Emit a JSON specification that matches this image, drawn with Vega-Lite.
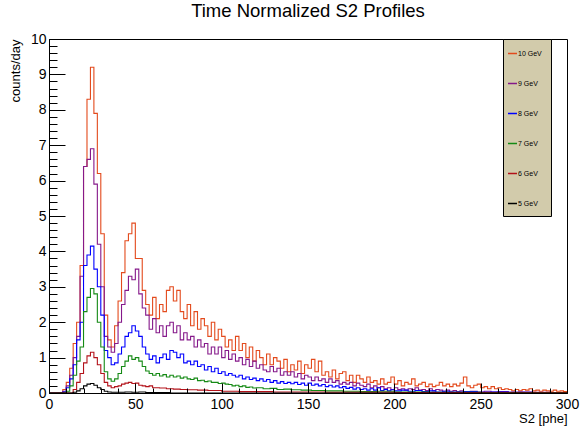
{
"$schema":"https://vega.github.io/schema/vega-lite/v6.json",
"autosize":{"type":"none"},
"width":518,"height":354,
"padding":{"left":49,"top":39,"right":14,"bottom":33},
"background":"white",
"title":{"text":"Time Normalized S2 Profiles","fontSize":18.5,"fontWeight":"normal","font":"Liberation Sans","color":"#000","anchor":"middle","offset":13,"dy":16,"baseline":"alphabetic"},
"config":{"view":{"stroke":"#000","strokeWidth":1},"font":"Liberation Sans"},
"data":{"values":[
{"s":"10 GeV","x":0,"y":0},{"s":"10 GeV","x":2,"y":0},{"s":"10 GeV","x":4,"y":0},{"s":"10 GeV","x":6,"y":0},{"s":"10 GeV","x":8,"y":0.1},{"s":"10 GeV","x":10,"y":0.3},{"s":"10 GeV","x":12,"y":0.7},{"s":"10 GeV","x":14,"y":1.4},{"s":"10 GeV","x":16,"y":2.0},{"s":"10 GeV","x":18,"y":3.6},{"s":"10 GeV","x":20,"y":6.4},{"s":"10 GeV","x":22,"y":8.3},{"s":"10 GeV","x":24,"y":9.2},{"s":"10 GeV","x":26,"y":7.9},{"s":"10 GeV","x":28,"y":6.2},{"s":"10 GeV","x":30,"y":4.5},{"s":"10 GeV","x":32,"y":2.2},{"s":"10 GeV","x":34,"y":1.5},{"s":"10 GeV","x":36,"y":1.3},{"s":"10 GeV","x":38,"y":1.9},{"s":"10 GeV","x":40,"y":2.6},{"s":"10 GeV","x":42,"y":3.4},{"s":"10 GeV","x":44,"y":4.3},{"s":"10 GeV","x":46,"y":4.5},{"s":"10 GeV","x":48,"y":4.8},{"s":"10 GeV","x":50,"y":3.8},{"s":"10 GeV","x":52,"y":3.8},{"s":"10 GeV","x":54,"y":2.9},{"s":"10 GeV","x":56,"y":2.5},{"s":"10 GeV","x":58,"y":2.2},{"s":"10 GeV","x":60,"y":2.7},{"s":"10 GeV","x":62,"y":2.1},{"s":"10 GeV","x":64,"y":2.5},{"s":"10 GeV","x":66,"y":2.3},{"s":"10 GeV","x":68,"y":2.9},{"s":"10 GeV","x":70,"y":3.0},{"s":"10 GeV","x":72,"y":2.6},{"s":"10 GeV","x":74,"y":2.9},{"s":"10 GeV","x":76,"y":2.3},{"s":"10 GeV","x":78,"y":2.1},{"s":"10 GeV","x":80,"y":2.5},{"s":"10 GeV","x":82,"y":1.9},{"s":"10 GeV","x":84,"y":2.3},{"s":"10 GeV","x":86,"y":1.8},{"s":"10 GeV","x":88,"y":2.1},{"s":"10 GeV","x":90,"y":1.9},{"s":"10 GeV","x":92,"y":1.6},{"s":"10 GeV","x":94,"y":2.0},{"s":"10 GeV","x":96,"y":1.5},{"s":"10 GeV","x":98,"y":1.8},{"s":"10 GeV","x":100,"y":1.6},{"s":"10 GeV","x":102,"y":1.3},{"s":"10 GeV","x":104,"y":1.5},{"s":"10 GeV","x":106,"y":1.2},{"s":"10 GeV","x":108,"y":1.6},{"s":"10 GeV","x":110,"y":1.2},{"s":"10 GeV","x":112,"y":1.4},{"s":"10 GeV","x":114,"y":1.0},{"s":"10 GeV","x":116,"y":1.3},{"s":"10 GeV","x":118,"y":0.9},{"s":"10 GeV","x":120,"y":1.2},{"s":"10 GeV","x":122,"y":1.0},{"s":"10 GeV","x":124,"y":0.8},{"s":"10 GeV","x":126,"y":1.1},{"s":"10 GeV","x":128,"y":0.8},{"s":"10 GeV","x":130,"y":1.0},{"s":"10 GeV","x":132,"y":0.9},{"s":"10 GeV","x":134,"y":0.7},{"s":"10 GeV","x":136,"y":0.95},{"s":"10 GeV","x":138,"y":0.6},{"s":"10 GeV","x":140,"y":0.8},{"s":"10 GeV","x":142,"y":0.65},{"s":"10 GeV","x":144,"y":0.9},{"s":"10 GeV","x":146,"y":0.55},{"s":"10 GeV","x":148,"y":0.8},{"s":"10 GeV","x":150,"y":0.7},{"s":"10 GeV","x":152,"y":0.95},{"s":"10 GeV","x":154,"y":0.6},{"s":"10 GeV","x":156,"y":0.9},{"s":"10 GeV","x":158,"y":0.5},{"s":"10 GeV","x":160,"y":0.6},{"s":"10 GeV","x":162,"y":0.45},{"s":"10 GeV","x":164,"y":0.65},{"s":"10 GeV","x":166,"y":0.4},{"s":"10 GeV","x":168,"y":0.55},{"s":"10 GeV","x":170,"y":0.6},{"s":"10 GeV","x":172,"y":0.35},{"s":"10 GeV","x":174,"y":0.5},{"s":"10 GeV","x":176,"y":0.3},{"s":"10 GeV","x":178,"y":0.5},{"s":"10 GeV","x":180,"y":0.4},{"s":"10 GeV","x":182,"y":0.3},{"s":"10 GeV","x":184,"y":0.45},{"s":"10 GeV","x":186,"y":0.3},{"s":"10 GeV","x":188,"y":0.35},{"s":"10 GeV","x":190,"y":0.25},{"s":"10 GeV","x":192,"y":0.4},{"s":"10 GeV","x":194,"y":0.25},{"s":"10 GeV","x":196,"y":0.3},{"s":"10 GeV","x":198,"y":0.45},{"s":"10 GeV","x":200,"y":0.25},{"s":"10 GeV","x":202,"y":0.35},{"s":"10 GeV","x":204,"y":0.2},{"s":"10 GeV","x":206,"y":0.3},{"s":"10 GeV","x":208,"y":0.25},{"s":"10 GeV","x":210,"y":0.4},{"s":"10 GeV","x":212,"y":0.2},{"s":"10 GeV","x":214,"y":0.25},{"s":"10 GeV","x":216,"y":0.3},{"s":"10 GeV","x":218,"y":0.18},{"s":"10 GeV","x":220,"y":0.25},{"s":"10 GeV","x":222,"y":0.18},{"s":"10 GeV","x":224,"y":0.22},{"s":"10 GeV","x":226,"y":0.3},{"s":"10 GeV","x":228,"y":0.2},{"s":"10 GeV","x":230,"y":0.25},{"s":"10 GeV","x":232,"y":0.18},{"s":"10 GeV","x":234,"y":0.25},{"s":"10 GeV","x":236,"y":0.2},{"s":"10 GeV","x":238,"y":0.28},{"s":"10 GeV","x":240,"y":0.45},{"s":"10 GeV","x":242,"y":0.2},{"s":"10 GeV","x":244,"y":0.15},{"s":"10 GeV","x":246,"y":0.22},{"s":"10 GeV","x":248,"y":0.25},{"s":"10 GeV","x":250,"y":0.15},{"s":"10 GeV","x":252,"y":0.18},{"s":"10 GeV","x":254,"y":0.12},{"s":"10 GeV","x":256,"y":0.18},{"s":"10 GeV","x":258,"y":0.12},{"s":"10 GeV","x":260,"y":0.15},{"s":"10 GeV","x":262,"y":0.1},{"s":"10 GeV","x":264,"y":0.12},{"s":"10 GeV","x":266,"y":0.1},{"s":"10 GeV","x":268,"y":0.06},{"s":"10 GeV","x":270,"y":0.1},{"s":"10 GeV","x":272,"y":0.06},{"s":"10 GeV","x":274,"y":0.1},{"s":"10 GeV","x":276,"y":0.08},{"s":"10 GeV","x":278,"y":0.12},{"s":"10 GeV","x":280,"y":0.06},{"s":"10 GeV","x":282,"y":0.08},{"s":"10 GeV","x":284,"y":0.05},{"s":"10 GeV","x":286,"y":0.08},{"s":"10 GeV","x":288,"y":0.06},{"s":"10 GeV","x":290,"y":0.05},{"s":"10 GeV","x":292,"y":0.08},{"s":"10 GeV","x":294,"y":0.05},{"s":"10 GeV","x":296,"y":0.06},{"s":"10 GeV","x":298,"y":0.04},{"s":"10 GeV","x":300,"y":0.04},
{"s":"9 GeV","x":0,"y":0},{"s":"9 GeV","x":6,"y":0},{"s":"9 GeV","x":8,"y":0.05},{"s":"9 GeV","x":10,"y":0.2},{"s":"9 GeV","x":12,"y":0.5},{"s":"9 GeV","x":14,"y":1.0},{"s":"9 GeV","x":16,"y":1.6},{"s":"9 GeV","x":18,"y":3.3},{"s":"9 GeV","x":20,"y":6.4},{"s":"9 GeV","x":22,"y":6.6},{"s":"9 GeV","x":24,"y":6.9},{"s":"9 GeV","x":26,"y":5.9},{"s":"9 GeV","x":28,"y":4.2},{"s":"9 GeV","x":30,"y":3.0},{"s":"9 GeV","x":32,"y":1.6},{"s":"9 GeV","x":34,"y":1.3},{"s":"9 GeV","x":36,"y":1.15},{"s":"9 GeV","x":38,"y":1.4},{"s":"9 GeV","x":40,"y":2.0},{"s":"9 GeV","x":42,"y":2.5},{"s":"9 GeV","x":44,"y":2.9},{"s":"9 GeV","x":46,"y":3.3},{"s":"9 GeV","x":48,"y":3.2},{"s":"9 GeV","x":50,"y":3.5},{"s":"9 GeV","x":52,"y":2.8},{"s":"9 GeV","x":54,"y":2.4},{"s":"9 GeV","x":56,"y":2.2},{"s":"9 GeV","x":58,"y":1.8},{"s":"9 GeV","x":60,"y":2.1},{"s":"9 GeV","x":62,"y":1.7},{"s":"9 GeV","x":64,"y":1.9},{"s":"9 GeV","x":66,"y":1.6},{"s":"9 GeV","x":68,"y":1.9},{"s":"9 GeV","x":70,"y":2.0},{"s":"9 GeV","x":72,"y":1.7},{"s":"9 GeV","x":74,"y":1.9},{"s":"9 GeV","x":76,"y":1.5},{"s":"9 GeV","x":78,"y":1.7},{"s":"9 GeV","x":80,"y":1.5},{"s":"9 GeV","x":82,"y":1.6},{"s":"9 GeV","x":84,"y":1.3},{"s":"9 GeV","x":86,"y":1.5},{"s":"9 GeV","x":88,"y":1.3},{"s":"9 GeV","x":90,"y":1.4},{"s":"9 GeV","x":92,"y":1.1},{"s":"9 GeV","x":94,"y":1.3},{"s":"9 GeV","x":96,"y":1.1},{"s":"9 GeV","x":98,"y":1.3},{"s":"9 GeV","x":100,"y":1.0},{"s":"9 GeV","x":102,"y":1.2},{"s":"9 GeV","x":104,"y":0.95},{"s":"9 GeV","x":106,"y":1.1},{"s":"9 GeV","x":108,"y":0.9},{"s":"9 GeV","x":110,"y":1.0},{"s":"9 GeV","x":112,"y":0.8},{"s":"9 GeV","x":114,"y":0.95},{"s":"9 GeV","x":116,"y":0.75},{"s":"9 GeV","x":118,"y":0.9},{"s":"9 GeV","x":120,"y":0.7},{"s":"9 GeV","x":122,"y":0.8},{"s":"9 GeV","x":124,"y":0.65},{"s":"9 GeV","x":126,"y":0.6},{"s":"9 GeV","x":128,"y":0.75},{"s":"9 GeV","x":130,"y":0.6},{"s":"9 GeV","x":132,"y":0.7},{"s":"9 GeV","x":134,"y":0.5},{"s":"9 GeV","x":136,"y":0.6},{"s":"9 GeV","x":138,"y":0.5},{"s":"9 GeV","x":140,"y":0.6},{"s":"9 GeV","x":142,"y":0.45},{"s":"9 GeV","x":144,"y":0.55},{"s":"9 GeV","x":146,"y":0.4},{"s":"9 GeV","x":148,"y":0.5},{"s":"9 GeV","x":150,"y":0.45},{"s":"9 GeV","x":152,"y":0.35},{"s":"9 GeV","x":154,"y":0.45},{"s":"9 GeV","x":156,"y":0.35},{"s":"9 GeV","x":158,"y":0.4},{"s":"9 GeV","x":160,"y":0.3},{"s":"9 GeV","x":162,"y":0.4},{"s":"9 GeV","x":164,"y":0.3},{"s":"9 GeV","x":166,"y":0.35},{"s":"9 GeV","x":168,"y":0.25},{"s":"9 GeV","x":170,"y":0.3},{"s":"9 GeV","x":172,"y":0.25},{"s":"9 GeV","x":174,"y":0.3},{"s":"9 GeV","x":176,"y":0.2},{"s":"9 GeV","x":178,"y":0.28},{"s":"9 GeV","x":180,"y":0.22},{"s":"9 GeV","x":182,"y":0.18},{"s":"9 GeV","x":184,"y":0.25},{"s":"9 GeV","x":186,"y":0.15},{"s":"9 GeV","x":188,"y":0.2},{"s":"9 GeV","x":190,"y":0.15},{"s":"9 GeV","x":192,"y":0.18},{"s":"9 GeV","x":194,"y":0.12},{"s":"9 GeV","x":196,"y":0.15},{"s":"9 GeV","x":198,"y":0.1},{"s":"9 GeV","x":200,"y":0.15},{"s":"9 GeV","x":202,"y":0.1},{"s":"9 GeV","x":204,"y":0.12},{"s":"9 GeV","x":206,"y":0.08},{"s":"9 GeV","x":208,"y":0.12},{"s":"9 GeV","x":210,"y":0.1},{"s":"9 GeV","x":212,"y":0.15},{"s":"9 GeV","x":214,"y":0.08},{"s":"9 GeV","x":216,"y":0.1},{"s":"9 GeV","x":218,"y":0.07},{"s":"9 GeV","x":220,"y":0.12},{"s":"9 GeV","x":222,"y":0.06},{"s":"9 GeV","x":224,"y":0.1},{"s":"9 GeV","x":226,"y":0.08},{"s":"9 GeV","x":228,"y":0.05},{"s":"9 GeV","x":230,"y":0.08},{"s":"9 GeV","x":232,"y":0.05},{"s":"9 GeV","x":234,"y":0.07},{"s":"9 GeV","x":236,"y":0.04},{"s":"9 GeV","x":238,"y":0.06},{"s":"9 GeV","x":240,"y":0.04},{"s":"9 GeV","x":244,"y":0.05},{"s":"9 GeV","x":248,"y":0.03},{"s":"9 GeV","x":252,"y":0.05},{"s":"9 GeV","x":256,"y":0.03},{"s":"9 GeV","x":260,"y":0.04},{"s":"9 GeV","x":266,"y":0.02},{"s":"9 GeV","x":272,"y":0.03},{"s":"9 GeV","x":280,"y":0.02},{"s":"9 GeV","x":290,"y":0.01},{"s":"9 GeV","x":300,"y":0.01},
{"s":"8 GeV","x":0,"y":0},{"s":"8 GeV","x":6,"y":0},{"s":"8 GeV","x":8,"y":0.03},{"s":"8 GeV","x":10,"y":0.15},{"s":"8 GeV","x":12,"y":0.4},{"s":"8 GeV","x":14,"y":0.8},{"s":"8 GeV","x":16,"y":1.5},{"s":"8 GeV","x":18,"y":2.0},{"s":"8 GeV","x":20,"y":3.6},{"s":"8 GeV","x":22,"y":3.9},{"s":"8 GeV","x":24,"y":4.15},{"s":"8 GeV","x":26,"y":3.5},{"s":"8 GeV","x":28,"y":3.0},{"s":"8 GeV","x":30,"y":2.2},{"s":"8 GeV","x":32,"y":1.2},{"s":"8 GeV","x":34,"y":1.0},{"s":"8 GeV","x":36,"y":0.8},{"s":"8 GeV","x":38,"y":0.85},{"s":"8 GeV","x":40,"y":1.1},{"s":"8 GeV","x":42,"y":1.3},{"s":"8 GeV","x":44,"y":1.6},{"s":"8 GeV","x":46,"y":1.7},{"s":"8 GeV","x":48,"y":1.9},{"s":"8 GeV","x":50,"y":1.75},{"s":"8 GeV","x":52,"y":1.6},{"s":"8 GeV","x":54,"y":1.3},{"s":"8 GeV","x":56,"y":1.1},{"s":"8 GeV","x":58,"y":0.95},{"s":"8 GeV","x":60,"y":1.05},{"s":"8 GeV","x":62,"y":0.85},{"s":"8 GeV","x":64,"y":1.0},{"s":"8 GeV","x":66,"y":1.1},{"s":"8 GeV","x":68,"y":0.95},{"s":"8 GeV","x":70,"y":1.2},{"s":"8 GeV","x":72,"y":1.15},{"s":"8 GeV","x":74,"y":1.0},{"s":"8 GeV","x":76,"y":1.1},{"s":"8 GeV","x":78,"y":0.85},{"s":"8 GeV","x":80,"y":0.9},{"s":"8 GeV","x":82,"y":0.8},{"s":"8 GeV","x":84,"y":0.9},{"s":"8 GeV","x":86,"y":0.75},{"s":"8 GeV","x":88,"y":0.8},{"s":"8 GeV","x":90,"y":0.65},{"s":"8 GeV","x":92,"y":0.75},{"s":"8 GeV","x":94,"y":0.6},{"s":"8 GeV","x":96,"y":0.7},{"s":"8 GeV","x":98,"y":0.55},{"s":"8 GeV","x":100,"y":0.6},{"s":"8 GeV","x":102,"y":0.5},{"s":"8 GeV","x":104,"y":0.55},{"s":"8 GeV","x":106,"y":0.5},{"s":"8 GeV","x":108,"y":0.45},{"s":"8 GeV","x":110,"y":0.5},{"s":"8 GeV","x":112,"y":0.4},{"s":"8 GeV","x":114,"y":0.45},{"s":"8 GeV","x":116,"y":0.38},{"s":"8 GeV","x":118,"y":0.42},{"s":"8 GeV","x":120,"y":0.35},{"s":"8 GeV","x":122,"y":0.4},{"s":"8 GeV","x":124,"y":0.33},{"s":"8 GeV","x":126,"y":0.38},{"s":"8 GeV","x":128,"y":0.3},{"s":"8 GeV","x":130,"y":0.35},{"s":"8 GeV","x":132,"y":0.28},{"s":"8 GeV","x":134,"y":0.32},{"s":"8 GeV","x":136,"y":0.27},{"s":"8 GeV","x":138,"y":0.3},{"s":"8 GeV","x":140,"y":0.26},{"s":"8 GeV","x":142,"y":0.3},{"s":"8 GeV","x":144,"y":0.24},{"s":"8 GeV","x":146,"y":0.28},{"s":"8 GeV","x":148,"y":0.22},{"s":"8 GeV","x":150,"y":0.28},{"s":"8 GeV","x":152,"y":0.22},{"s":"8 GeV","x":154,"y":0.25},{"s":"8 GeV","x":156,"y":0.2},{"s":"8 GeV","x":158,"y":0.24},{"s":"8 GeV","x":160,"y":0.18},{"s":"8 GeV","x":162,"y":0.22},{"s":"8 GeV","x":164,"y":0.17},{"s":"8 GeV","x":166,"y":0.2},{"s":"8 GeV","x":168,"y":0.15},{"s":"8 GeV","x":170,"y":0.18},{"s":"8 GeV","x":172,"y":0.13},{"s":"8 GeV","x":174,"y":0.16},{"s":"8 GeV","x":176,"y":0.11},{"s":"8 GeV","x":178,"y":0.15},{"s":"8 GeV","x":180,"y":0.1},{"s":"8 GeV","x":182,"y":0.12},{"s":"8 GeV","x":184,"y":0.08},{"s":"8 GeV","x":186,"y":0.12},{"s":"8 GeV","x":188,"y":0.08},{"s":"8 GeV","x":190,"y":0.15},{"s":"8 GeV","x":192,"y":0.07},{"s":"8 GeV","x":194,"y":0.1},{"s":"8 GeV","x":196,"y":0.06},{"s":"8 GeV","x":198,"y":0.09},{"s":"8 GeV","x":200,"y":0.06},{"s":"8 GeV","x":204,"y":0.08},{"s":"8 GeV","x":208,"y":0.05},{"s":"8 GeV","x":212,"y":0.07},{"s":"8 GeV","x":216,"y":0.04},{"s":"8 GeV","x":220,"y":0.06},{"s":"8 GeV","x":224,"y":0.03},{"s":"8 GeV","x":228,"y":0.05},{"s":"8 GeV","x":232,"y":0.03},{"s":"8 GeV","x":240,"y":0.04},{"s":"8 GeV","x":248,"y":0.02},{"s":"8 GeV","x":256,"y":0.03},{"s":"8 GeV","x":266,"y":0.02},{"s":"8 GeV","x":280,"y":0.01},{"s":"8 GeV","x":300,"y":0.01},
{"s":"7 GeV","x":0,"y":0},{"s":"7 GeV","x":8,"y":0},{"s":"7 GeV","x":10,"y":0.05},{"s":"7 GeV","x":12,"y":0.2},{"s":"7 GeV","x":14,"y":0.5},{"s":"7 GeV","x":16,"y":0.9},{"s":"7 GeV","x":18,"y":1.3},{"s":"7 GeV","x":20,"y":2.3},{"s":"7 GeV","x":22,"y":2.7},{"s":"7 GeV","x":24,"y":2.95},{"s":"7 GeV","x":26,"y":2.8},{"s":"7 GeV","x":28,"y":2.0},{"s":"7 GeV","x":30,"y":1.3},{"s":"7 GeV","x":32,"y":0.6},{"s":"7 GeV","x":34,"y":0.4},{"s":"7 GeV","x":36,"y":0.33},{"s":"7 GeV","x":38,"y":0.4},{"s":"7 GeV","x":40,"y":0.55},{"s":"7 GeV","x":42,"y":0.75},{"s":"7 GeV","x":44,"y":0.9},{"s":"7 GeV","x":46,"y":1.05},{"s":"7 GeV","x":48,"y":0.95},{"s":"7 GeV","x":50,"y":1.0},{"s":"7 GeV","x":52,"y":0.9},{"s":"7 GeV","x":54,"y":0.75},{"s":"7 GeV","x":56,"y":0.62},{"s":"7 GeV","x":58,"y":0.55},{"s":"7 GeV","x":60,"y":0.5},{"s":"7 GeV","x":62,"y":0.55},{"s":"7 GeV","x":64,"y":0.48},{"s":"7 GeV","x":66,"y":0.52},{"s":"7 GeV","x":68,"y":0.45},{"s":"7 GeV","x":70,"y":0.5},{"s":"7 GeV","x":72,"y":0.45},{"s":"7 GeV","x":74,"y":0.48},{"s":"7 GeV","x":76,"y":0.42},{"s":"7 GeV","x":78,"y":0.45},{"s":"7 GeV","x":80,"y":0.4},{"s":"7 GeV","x":82,"y":0.38},{"s":"7 GeV","x":84,"y":0.42},{"s":"7 GeV","x":86,"y":0.35},{"s":"7 GeV","x":88,"y":0.36},{"s":"7 GeV","x":90,"y":0.32},{"s":"7 GeV","x":92,"y":0.34},{"s":"7 GeV","x":94,"y":0.3},{"s":"7 GeV","x":96,"y":0.3},{"s":"7 GeV","x":98,"y":0.27},{"s":"7 GeV","x":100,"y":0.28},{"s":"7 GeV","x":102,"y":0.25},{"s":"7 GeV","x":104,"y":0.24},{"s":"7 GeV","x":106,"y":0.2},{"s":"7 GeV","x":108,"y":0.22},{"s":"7 GeV","x":110,"y":0.18},{"s":"7 GeV","x":112,"y":0.2},{"s":"7 GeV","x":114,"y":0.16},{"s":"7 GeV","x":116,"y":0.17},{"s":"7 GeV","x":118,"y":0.14},{"s":"7 GeV","x":120,"y":0.15},{"s":"7 GeV","x":124,"y":0.12},{"s":"7 GeV","x":128,"y":0.13},{"s":"7 GeV","x":132,"y":0.1},{"s":"7 GeV","x":136,"y":0.11},{"s":"7 GeV","x":140,"y":0.09},{"s":"7 GeV","x":146,"y":0.08},{"s":"7 GeV","x":152,"y":0.07},{"s":"7 GeV","x":160,"y":0.06},{"s":"7 GeV","x":170,"y":0.05},{"s":"7 GeV","x":180,"y":0.04},{"s":"7 GeV","x":190,"y":0.05},{"s":"7 GeV","x":200,"y":0.03},{"s":"7 GeV","x":220,"y":0.02},{"s":"7 GeV","x":250,"y":0.01},{"s":"7 GeV","x":300,"y":0.01},
{"s":"6 GeV","x":0,"y":0},{"s":"6 GeV","x":12,"y":0},{"s":"6 GeV","x":14,"y":0.1},{"s":"6 GeV","x":16,"y":0.3},{"s":"6 GeV","x":18,"y":0.55},{"s":"6 GeV","x":20,"y":0.85},{"s":"6 GeV","x":22,"y":1.05},{"s":"6 GeV","x":24,"y":1.15},{"s":"6 GeV","x":26,"y":1.0},{"s":"6 GeV","x":28,"y":0.8},{"s":"6 GeV","x":30,"y":0.55},{"s":"6 GeV","x":32,"y":0.3},{"s":"6 GeV","x":34,"y":0.2},{"s":"6 GeV","x":36,"y":0.15},{"s":"6 GeV","x":38,"y":0.18},{"s":"6 GeV","x":40,"y":0.2},{"s":"6 GeV","x":42,"y":0.25},{"s":"6 GeV","x":44,"y":0.28},{"s":"6 GeV","x":46,"y":0.3},{"s":"6 GeV","x":48,"y":0.27},{"s":"6 GeV","x":50,"y":0.28},{"s":"6 GeV","x":52,"y":0.22},{"s":"6 GeV","x":54,"y":0.2},{"s":"6 GeV","x":56,"y":0.18},{"s":"6 GeV","x":58,"y":0.2},{"s":"6 GeV","x":60,"y":0.15},{"s":"6 GeV","x":64,"y":0.14},{"s":"6 GeV","x":68,"y":0.12},{"s":"6 GeV","x":72,"y":0.11},{"s":"6 GeV","x":76,"y":0.1},{"s":"6 GeV","x":80,"y":0.09},{"s":"6 GeV","x":86,"y":0.08},{"s":"6 GeV","x":92,"y":0.07},{"s":"6 GeV","x":100,"y":0.05},{"s":"6 GeV","x":110,"y":0.04},{"s":"6 GeV","x":130,"y":0.03},{"s":"6 GeV","x":160,"y":0.02},{"s":"6 GeV","x":200,"y":0.01},{"s":"6 GeV","x":250,"y":0.005},{"s":"6 GeV","x":300,"y":0},
{"s":"5 GeV","x":0,"y":0},{"s":"5 GeV","x":12,"y":0},{"s":"5 GeV","x":14,"y":0.02},{"s":"5 GeV","x":16,"y":0.06},{"s":"5 GeV","x":18,"y":0.12},{"s":"5 GeV","x":20,"y":0.2},{"s":"5 GeV","x":22,"y":0.25},{"s":"5 GeV","x":24,"y":0.27},{"s":"5 GeV","x":26,"y":0.22},{"s":"5 GeV","x":28,"y":0.15},{"s":"5 GeV","x":30,"y":0.1},{"s":"5 GeV","x":32,"y":0.05},{"s":"5 GeV","x":34,"y":0.03},{"s":"5 GeV","x":36,"y":0.02},{"s":"5 GeV","x":44,"y":0.03},{"s":"5 GeV","x":48,"y":0.02},{"s":"5 GeV","x":52,"y":0.03},{"s":"5 GeV","x":56,"y":0.01},{"s":"5 GeV","x":70,"y":0},{"s":"5 GeV","x":300,"y":0}
]},
"layer":[
{"mark":{"type":"line","interpolate":"step-after","strokeWidth":1.1,"clip":true},
 "encoding":{
  "x":{"field":"x","type":"quantitative","scale":{"domain":[0,300],"nice":false,"zero":false},
   "axis":{"orient":"bottom","values":[0,50,100,150,200,250,300],"tickSize":-10,"tickColor":"#000","tickWidth":1,"domainColor":"#000","grid":false,"labelPadding":14,"labelFontSize":14,"labelFont":"Liberation Sans","labelColor":"#000","labelFlush":false,"labelOverlap":false,"labelBound":false,"title":"S2 [phe]","titleFont":"Liberation Sans","titleFontSize":13,"titleFontWeight":"normal","titleColor":"#000","titleX":518,"titleY":25,"titleAlign":"right","titleBaseline":"middle","zindex":1}},
  "y":{"field":"y","type":"quantitative","scale":{"domain":[0,10],"nice":false},
   "axis":{"orient":"left","values":[0,1,2,3,4,5,6,7,8,9,10],"tickSize":-16,"tickColor":"#000","tickWidth":1,"domainColor":"#000","grid":false,"labelPadding":19,"labelFontSize":14,"labelFont":"Liberation Sans","labelColor":"#000","labelFlush":false,"labelOverlap":false,"labelBound":false,"title":"counts/day","titleFont":"Liberation Sans","titleFontSize":13,"titleFontWeight":"normal","titleColor":"#000","titleX":-34,"titleY":0,"titleAngle":270,"titleAlign":"right","titleBaseline":"middle","zindex":1}},
  "color":{"field":"s","type":"nominal","scale":{"domain":["10 GeV","9 GeV","8 GeV","7 GeV","6 GeV","5 GeV"],"range":["#e34a1c","#85188a","#0000ff","#158a15","#b3121a","#000000"]},
   "legend":{"orient":"none","legendX":454,"legendY":0,"title":null,"fillColor":"#d2cbab","strokeColor":"#000","padding":9,"symbolType":"stroke","symbolSize":81,"symbolStrokeWidth":1.5,"symbolOffset":-5,"labelFontSize":7,"labelFont":"Liberation Sans","labelColor":"#000","labelOffset":0,"rowPadding":21,"labelExpr":"datum.label + '       '"}}
 }},
{"mark":{"type":"line","strokeOpacity":0,"clip":true},
 "encoding":{
  "x":{"field":"x","type":"quantitative",
   "axis":{"orient":"bottom","values":[0,10,20,30,40,50,60,70,80,90,100,110,120,130,140,150,160,170,180,190,200,210,220,230,240,250,260,270,280,290,300],"tickSize":-5,"tickColor":"#000","labels":false,"domain":false,"grid":false,"title":null,"zindex":1}},
  "y":{"field":"y","type":"quantitative",
   "axis":{"orient":"left","values":[0,0.2,0.4,0.6,0.8,1,1.2,1.4,1.6,1.8,2,2.2,2.4,2.6,2.8,3,3.2,3.4,3.6,3.8,4,4.2,4.4,4.6,4.8,5,5.2,5.4,5.6,5.8,6,6.2,6.4,6.6,6.8,7,7.2,7.4,7.6,7.8,8,8.2,8.4,8.6,8.8,9,9.2,9.4,9.6,9.8,10],"tickSize":-8,"tickColor":"#000","labels":false,"domain":false,"grid":false,"title":null,"zindex":1}}
 }}
],
"resolve":{"axis":{"x":"independent","y":"independent"}}
}
